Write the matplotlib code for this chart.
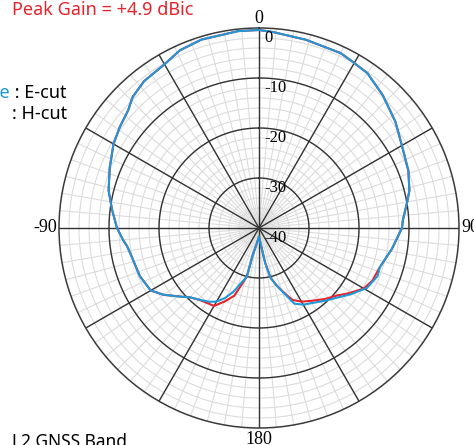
import numpy as np
import matplotlib
matplotlib.use('Agg')
import matplotlib.pyplot as plt

# E-cut (blue), angle in degrees, gain in dB
e_angle = [-180, -167, -166, -158, -154, -150, -146, -140, -135, -131, -125, -120,
           -112, -104, -98, -95, -90, -83, -76, -68, -60, -54, -48, -44, -38, -30,
           -24, -17, -6, 0, 4, 14, 25, 29, 35, 43, 52, 60, 69, 76, 80, 87, 90, 99,
           108, 112, 119, 126, 131, 137, 144, 150, 155, 159, 163, 167, 170, 180]
e_gain = [-38.2, -34.5, -30.0, -26.2, -24.4, -23.0, -22.2, -21.3, -20.4, -19.1, -16.7, -15.0,
          -14.3, -14.0, -13.4, -12.7, -11.6, -10.4, -9.0, -7.8, -6.4, -5.6, -4.8, -3.6, -2.7, -2.2,
          -1.1, -0.6, -0.4, -0.4, -0.7, -1.2, -1.4, -1.8, -2.2, -3.7, -5.4, -7.0, -8.0, -9.0, -9.9, -11.2, -11.4, -13.1,
          -14.6, -14.4, -15.3, -17.4, -18.9, -20.2, -21.5, -22.3, -23.3, -26.0, -28.0, -29.8, -33.0, -38.2]

# H-cut (red)
h_angle = [-180, -167, -166, -160, -155, -150, -146, -140, -135, -131, -125, -120,
           -112, -104, -98, -95, -90, -83, -76, -68, -60, -54, -48, -44, -38, -30,
           -24, -17, -6, 0, 4, 14, 25, 29, 35, 43, 52, 60, 69, 76, 80, 87, 90, 99,
           108, 115, 120, 126, 131, 137, 144, 150, 155, 159, 163, 167, 170, 180]
h_gain = [-38.2, -34.5, -30.0, -25.6, -23.8, -22.0, -21.8, -21.3, -20.4, -19.1, -16.7, -15.0,
          -14.3, -14.0, -13.4, -12.7, -11.6, -10.4, -9.0, -7.8, -6.4, -5.6, -4.8, -3.6, -2.7, -2.2,
          -1.1, -0.6, -0.4, -0.4, -0.7, -1.2, -1.4, -1.8, -2.2, -3.7, -5.4, -7.0, -8.0, -9.0, -9.9, -11.2, -11.4, -13.1,
          -14.6, -15.0, -15.8, -17.8, -19.4, -20.6, -22.0, -23.0, -24.1, -26.2, -28.0, -29.8, -33.0, -38.2]

ring_labels = [0, -10, -20, -30, -40]

BLUE = '#1e98d8'
RED = '#e8232b'
SERIF = 'Liberation Serif'
SANS = 'Noto Sans'

fig = plt.figure(figsize=(4.74, 4.45), dpi=100)
ax = fig.add_axes([59 / 474, 17 / 445, 400 / 474, 400 / 445], projection='polar')
ax.set_theta_zero_location('N')
ax.set_theta_direction(-1)
ax.set_ylim(-40, 0)
ax.grid(False)
ax.set_xticks([])
ax.set_yticks([])
ax.spines['polar'].set_color('#3a3a3a')
ax.spines['polar'].set_linewidth(1.1)

# grid
full = np.linspace(0, 2 * np.pi, 721)
for r in np.arange(-38, 0, 2):
    ax.plot(full, np.full_like(full, r), color='#dcdcdc', lw=0.8, zorder=1)
for a in range(0, 360, 5):
    ax.plot([np.deg2rad(a)] * 2, [-40, 0], color='#dcdcdc', lw=0.8, zorder=1)
for r in [-30, -20, -10]:
    ax.plot(full, np.full_like(full, r), color='#333333', lw=1.0, zorder=2)
for a in range(0, 360, 30):
    ax.plot([np.deg2rad(a)] * 2, [-40, 0], color='#333333', lw=1.0, zorder=2)

ax.plot(np.deg2rad(h_angle), h_gain, color=RED, lw=1.5, zorder=3, clip_on=False)
ax.plot(np.deg2rad(e_angle), e_gain, color=BLUE, lw=1.5, zorder=4, clip_on=False)

for r in ring_labels:
    ax.annotate('%d' % r, xy=(0, r), xytext=(4, -7), textcoords='offset points',
                ha='left', va='center', fontsize=12, family=SERIF, zorder=5)

ax.annotate('0', xy=(0, 0), xytext=(0, 1), textcoords='offset points',
            ha='center', va='bottom', fontsize=13, family=SERIF)
ax.annotate('90', xy=(np.pi / 2, 0), xytext=(2, 0), textcoords='offset points',
            ha='left', va='center', fontsize=13, family=SERIF, annotation_clip=False)
ax.annotate('-90', xy=(-np.pi / 2, 0), xytext=(-1, 0), textcoords='offset points',
            ha='right', va='center', fontsize=13, family=SERIF)
ax.annotate('180', xy=(np.pi, 0), xytext=(0, -2), textcoords='offset points',
            ha='center', va='top', fontsize=13, family=SERIF)

fig.text(12 / 474, 1 - 15 / 445, 'Peak Gain = +4.9 dBic', color=RED,
         fontsize=13, family=SANS, va='baseline', ha='left')

t1 = fig.text(67 / 474, 1 - 98 / 445, ' : E-cut', fontsize=13, family=SANS,
              va='baseline', ha='right')
fig.text(67 / 474, 1 - 119 / 445, ': H-cut', fontsize=13, family=SANS,
         va='baseline', ha='right')
fig.canvas.draw()
ax.annotate('Blue', xy=(0, 0), xycoords=t1, ha='right', va='bottom',
            fontsize=13, family=SANS, color=BLUE, annotation_clip=False)

fig.text(12 / 474, -2 / 445, 'L2 GNSS Band', fontsize=12.5, family=SANS,
         va='baseline', ha='left')

fig.savefig('out.png', dpi=100)
